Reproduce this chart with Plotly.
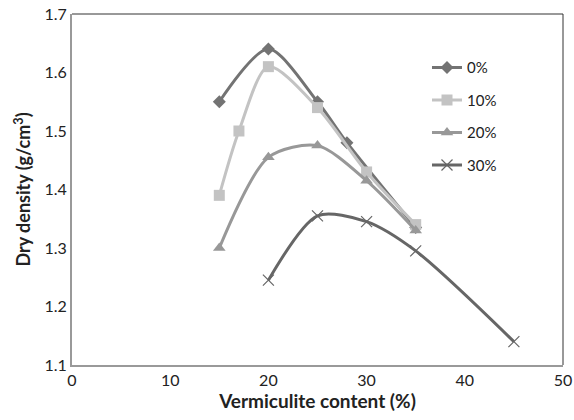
import plotly.graph_objects as go

x0 = [15, 20, 25, 28, 35]
y0 = [1.55, 1.64, 1.55, 1.48, 1.335]
x10 = [15, 17, 20, 25, 30, 35]
y10 = [1.39, 1.50, 1.61, 1.54, 1.43, 1.34]
x20 = [15, 20, 25, 30, 35]
y20 = [1.30, 1.455, 1.475, 1.415, 1.33]
x30 = [20, 25, 30, 35, 45]
y30 = [1.245, 1.355, 1.345, 1.295, 1.14]

series = [
    ("0%", x0, y0, "#737373", "diamond", 10, None),
    ("10%", x10, y10, "#c3c3c3", "square", 11, None),
    ("20%", x20, y20, "#989898", "triangle-up", 11, None),
    ("30%", x30, y30, "#666666", "x-thin", 11, 1),
]

fig = go.Figure()
for i, (name, xs, ys, col, sym, sz, lw) in enumerate(series):
    marker = dict(symbol=sym, size=sz, color=col)
    if lw:
        marker["line"] = dict(width=1.2, color=col)
    fig.add_trace(go.Scatter(
        x=xs, y=ys, name=name, mode="lines+markers",
        line=dict(color=col, width=3, shape="spline", smoothing=0.8),
        marker=marker, legendgroup=name,
    ))

font = "Lato, Open Sans, Liberation Sans, sans-serif"
fig.update_layout(
    width=574, height=420,
    margin=dict(l=72, r=11, t=14, b=55),
    plot_bgcolor="white", paper_bgcolor="white",
    font=dict(family=font, color="#222222", size=16),
    showlegend=True,
    legend=dict(x=0.723, y=0.894, xanchor="left", yanchor="top",
                font=dict(size=15), tracegroupgap=10, bgcolor="rgba(0,0,0,0)"),
    xaxis=dict(range=[0, 50], dtick=10, showgrid=False, zeroline=False, automargin=False,
               showline=True, linecolor="#999999", linewidth=2, ticklabeloverflow="allow",
               title=dict(text="<b>Vermiculite content (%)</b>", font=dict(size=19), standoff=4),
               ticks="", tickfont=dict(size=16)),
    yaxis=dict(range=[1.1, 1.7], dtick=0.1, tickformat=".1f", showgrid=False, zeroline=False,
               automargin=False, ticklabeloverflow="allow",
               showline=True, linecolor="#999999", linewidth=2,
               title=dict(text="<b>Dry density (g/cm<sup>3</sup>)</b>", font=dict(size=18), standoff=9),
               ticks="", tickfont=dict(size=16)),
    shapes=[
        dict(type="line", xref="paper", yref="paper", x0=0, x1=1, y0=1, y1=1,
             line=dict(color="#333333", width=1)),
        dict(type="line", xref="paper", yref="paper", x0=1, x1=1, y0=0, y1=1,
             line=dict(color="#333333", width=1)),
    ],
)

fig.write_html("out.html", config={"displayModeBar": False},
               post_script="document.body.style.margin='0';document.body.style.overflow='hidden';")
